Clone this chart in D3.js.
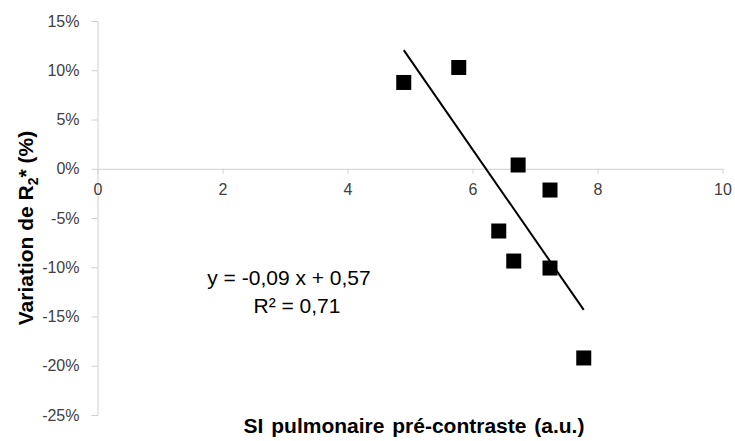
<!DOCTYPE html>
<html>
<head>
<meta charset="utf-8">
<script src="https://cdn.jsdelivr.net/npm/d3@7"></script>
<style>
  body { margin: 0; background: #fff; }
  text { font-family: "Liberation Sans", Arial, sans-serif; }
</style>
</head>
<body>
<script>
// values
const siValues = [4.90, 5.78, 6.73, 7.24, 6.42, 6.66, 7.24, 7.78];
const r2Change = [8.76, 10.28, 0.38, -2.16, -6.32, -9.37, -10.08, -19.21];
const xTicks = [0, 2, 4, 6, 8, 10];
const yTicks = [15, 10, 5, 0, -5, -10, -15, -20, -25];
const eqLines = ["y = -0,09 x + 0,57", "R² = 0,71"];

const width = 735, height = 441;
const axisColor = "#d0d0d0",
  tickTextColor = "#404040",
  markerSize = 15;

const svg = d3.select("body")
  .append("svg")
  .attr("width", width)
  .attr("height", height);

const x = d3.scaleLinear().domain([0, 10]).range([97.5, 722.5]);
const y = d3.scaleLinear().domain([-25, 15]).range([415, 21]);

const points = siValues.map((v, i) => ({ x: v, y: r2Change[i] }));

// y axis
const yAxis = svg.append("g")
  .attr("transform", `translate(${x(0)},0)`)
  .call(d3.axisLeft(y).tickValues(yTicks).tickSize(6).tickPadding(12)
    .tickFormat(d => d + "%"));
yAxis.select(".domain").attr("stroke", axisColor);
yAxis.selectAll(".tick line").attr("stroke", axisColor);
yAxis.selectAll(".tick text")
  .attr("fill", tickTextColor)
  .attr("font-size", 16)
  .attr("font-family", "Liberation Sans, Arial, sans-serif");

// x axis on the zero line
const xAxis = svg.append("g")
  .attr("transform", `translate(0,${y(0)})`)
  .call(d3.axisBottom(x).tickValues(xTicks).tickSize(5).tickPadding(10)
    .tickSizeOuter(0));
xAxis.select(".domain").attr("stroke", axisColor);
xAxis.selectAll(".tick line").attr("stroke", axisColor);
xAxis.selectAll(".tick text")
  .attr("fill", tickTextColor)
  .attr("font-size", 16)
  .attr("font-family", "Liberation Sans, Arial, sans-serif");

// linear trend from the points
const mx = d3.mean(points, d => d.x), my = d3.mean(points, d => d.y);
const slope = d3.sum(points, d => (d.x - mx) * (d.y - my)) /
  d3.sum(points, d => (d.x - mx) ** 2);
const icpt = my - slope * mx;
const [x0, x1] = d3.extent(points, d => d.x);

svg.append("line")
  .attr("x1", x(x0)).attr("y1", y(icpt + slope * x0))
  .attr("x2", x(x1)).attr("y2", y(icpt + slope * x1))
  .attr("stroke", "#000")
  .attr("stroke-width", 2);

svg.append("g")
  .selectAll("rect")
  .data(points)
  .join("rect")
  .attr("x", d => x(d.x) - markerSize / 2)
  .attr("y", d => y(d.y) - markerSize / 2)
  .attr("width", markerSize)
  .attr("height", markerSize)
  .attr("fill", "#000");

// equation label
svg.append("g")
  .selectAll("text")
  .data(eqLines)
  .join("text")
  .attr("x", (d, i) => i === 0 ? 289 : 297)
  .attr("y", (d, i) => 285 + i * 28)
  .attr("text-anchor", "middle")
  .attr("font-size", 21)
  .attr("fill", "#000")
  .text(d => d);

// axis titles
svg.append("text")
  .attr("x", 414)
  .attr("y", 433)
  .attr("text-anchor", "middle")
  .attr("font-size", 21)
  .attr("font-weight", "bold")
  .attr("word-spacing", 2)
  .attr("fill", "#000")
  .text("SI pulmonaire pré-contraste (a.u.)");

const yTitle = svg.append("text")
  .attr("transform", "translate(33,228) rotate(-90)")
  .attr("text-anchor", "middle")
  .attr("font-size", 21)
  .attr("font-weight", "bold")
  .attr("fill", "#000");
yTitle.append("tspan").text("Variation de R");
yTitle.append("tspan").attr("font-size", 14).attr("dy", 5).text("2");
yTitle.append("tspan").attr("dy", -5).text("* (%)");
</script>
</body>
</html>
